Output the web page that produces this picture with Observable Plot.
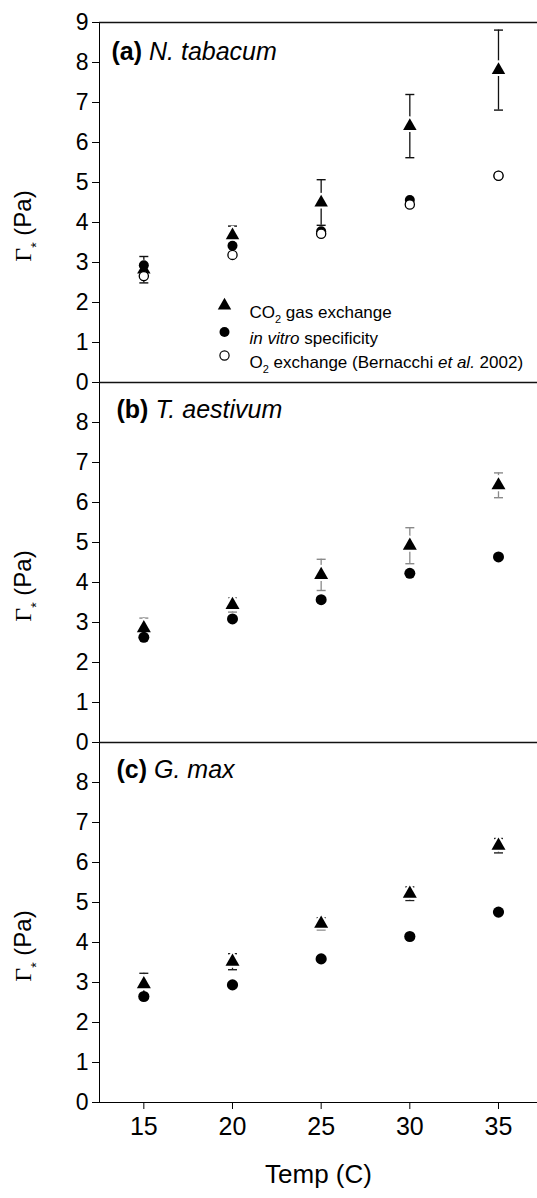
<!DOCTYPE html>
<html>
<head>
<meta charset="utf-8">
<script src="https://cdn.jsdelivr.net/npm/d3@7"></script>
<script src="https://cdn.jsdelivr.net/npm/@observablehq/plot@0.6"></script>
<style>
  html, body { margin: 0; padding: 0; background: #fff; overflow: hidden; }
  #chart { position: relative; width: 537px; height: 1198px; }
  #chart svg { position: absolute; left: 0; }
</style>
</head>
<body>
<div id="chart"></div>
<script>
// ---------- data ----------
const temps = [15, 20, 25, 30, 35];

// (a) N. tabacum
const tabacumCO2 = [2.82, 3.68, 4.50, 6.41, 7.81];
const tabacumCO2Err = [0.33, 0.23, 0.57, 0.79, 1.00];
const tabacumVitro = [2.93, 3.42, 3.78, 4.56, 5.17];
const tabacumO2 = [2.66, 3.19, 3.72, 4.45, 5.17];

// (b) T. aestivum
const aestivumCO2 = [2.86, 3.44, 4.19, 4.92, 6.43];
const aestivumCO2Err = [0.25, 0.18, 0.39, 0.45, 0.31];
const aestivumVitro = [2.63, 3.09, 3.57, 4.23, 4.64];

// (c) G. max
const maxCO2 = [2.96, 3.52, 4.47, 5.22, 6.42];
const maxCO2Err = [0.27, 0.20, 0.15, 0.17, 0.18];
const maxVitro = [2.65, 2.94, 3.59, 4.15, 4.76];

const yTicksTop = [0, 1, 2, 3, 4, 5, 6, 7, 8, 9];
const yTicksLower = [0, 1, 2, 3, 4, 5, 6, 7, 8];
const xTicks = [15, 20, 25, 30, 35];
const yDomain = [0, 9];
const xDomain = [12.5, 37.2];

const panelLetters = ["(a)", "(b)", "(c)"];
const panelSpecies = ["N. tabacum", "T. aestivum", "G. max"];
const legendLabels = ["CO2 gas exchange", "in vitro specificity", "O2 exchange (Bernacchi et al. 2002)"];
const yLabel = "Γ* (Pa)";
const xLabel = "Temp (C)";

// ---------- helpers ----------
const rows = (vals, errs) => temps.map((t, i) => ({t, v: vals[i], e: errs ? errs[i] : 0}));
const cap = {draw(ctx) { ctx.moveTo(-4.5, 0); ctx.lineTo(4.5, 0); }};
const FONT = "Liberation Sans, Arial, Helvetica, sans-serif";
const SERIF = "Liberation Serif, Times New Roman, serif";

function findText(svg, key) {
  return d3.select(svg).selectAll("text").filter(function() { return this.textContent === key; });
}
function rich(sel, parts) {
  sel.each(function() {
    const t = d3.select(this);
    t.text(null);
    for (const p of parts) {
      const s = t.append("tspan").text(p.text);
      for (const [k, v] of Object.entries(p.attrs || {})) s.attr(k, v);
    }
  });
}

function panel(i, cfg) {
  const tri = rows(cfg.co2, cfg.co2Err);
  const title = panelLetters[i] + " " + panelSpecies[i];
  const marks = [
    Plot.ruleY([yDomain[1]], {stroke: "#111", strokeWidth: 1.3}),
    Plot.ruleX(tri, {x: "t", y1: d => d.v - d.e, y2: d => d.v + d.e, stroke: cfg.barColor, strokeWidth: 1.3}),
    Plot.dot(tri, {x: "t", y: d => d.v + d.e, symbol: cap, stroke: cfg.barColor, strokeWidth: 1.4}),
    Plot.dot(tri, {x: "t", y: d => d.v - d.e, symbol: cap, stroke: cfg.barColor, strokeWidth: 1.4}),
    Plot.dot(tri, {x: "t", y: "v", symbol: "triangle", r: cfg.triR, fill: "#000", stroke: "#fff", strokeWidth: 4, paintOrder: "stroke", strokeLinejoin: "round"}),
    Plot.dot(rows(cfg.vitro), {x: "t", y: "v", r: cfg.circR, fill: "#000"})
  ];
  if (cfg.o2) marks.push(Plot.dot(rows(cfg.o2), {x: "t", y: "v", r: 4.6, fill: "#fff", stroke: "#000", strokeWidth: 1.3}));
  marks.push(
    Plot.text([title], {frameAnchor: "top-left", textAnchor: "start", lineAnchor: "top", dx: cfg.titleDx, dy: cfg.titleDy, fontSize: 25, fill: "#000"}),
    Plot.text([yLabel], {frameAnchor: "left", textAnchor: "middle", rotate: -90, fontSize: 24, fill: "#000"})
  );
  if (cfg.legend) {
    const ly = [283, 309.5, 333];
    marks.push(
      Plot.dot([0], {frameAnchor: "top-left", dx: 125, dy: ly[0], symbol: "triangle", r: 5, fill: "#000"}),
      Plot.dot([0], {frameAnchor: "top-left", dx: 125, dy: ly[1], r: 5, fill: "#000"}),
      Plot.dot([0], {frameAnchor: "top-left", dx: 125, dy: ly[2], r: 4.6, fill: "#fff", stroke: "#000", strokeWidth: 1.2}),
      ...legendLabels.map((l, k) => Plot.text([l], {frameAnchor: "top-left", dx: 150, dy: ly[k], textAnchor: "start", fontSize: 17, fill: "#000"}))
    );
  }
  if (cfg.xAxis) {
    marks.push(Plot.text([xLabel], {frameAnchor: "bottom", dy: 80, fontSize: 26, fill: "#000"}));
  }
  const svg = Plot.plot({
    width: 537,
    height: cfg.height,
    marginLeft: 99,
    marginRight: 0,
    marginTop: cfg.marginTop,
    marginBottom: cfg.marginBottom,
    style: {fontFamily: FONT, fontSize: "22px", overflow: "visible", background: "transparent", color: "#000"},
    x: cfg.xAxis
      ? {domain: xDomain, ticks: xTicks, tickSize: 7, tickPadding: 8, line: true, label: null}
      : {domain: xDomain, axis: null},
    y: {domain: yDomain, ticks: cfg.yTicks, tickSize: 7, tickPadding: 4, line: true, label: null},
    marks
  });
  svg.style.top = cfg.top + "px";
  d3.select(svg).selectAll('[aria-label^="y-axis"] text').style("font-size", "23px");
  d3.select(svg).selectAll('[aria-label^="x-axis"] text').style("font-size", "25px");
  rich(findText(svg, title), [
    {text: panelLetters[i], attrs: {"font-weight": "bold"}},
    {text: " "},
    {text: panelSpecies[i], attrs: {"font-style": "italic"}}
  ]);
  // y label: fixed offset left of the axis, centred a little below the panel middle
  const yl = findText(svg, yLabel);
  const innerH = cfg.height - cfg.marginTop - cfg.marginBottom;
  const cy = cfg.marginTop + innerH / 2 + 24;
  yl.each(function() {
    if (this.parentNode && this.parentNode.tagName === "g") d3.select(this.parentNode).attr("transform", null);
  });
  yl.attr("x", null).attr("y", null).attr("text-anchor", "middle").attr("transform", `translate(31,${cy}) rotate(-90)`);
  rich(yl, [
    {text: "Γ", attrs: {"font-family": SERIF, "font-size": 24}},
    {text: "*", attrs: {"font-size": 14, dy: 10}},
    {text: " (Pa)", attrs: {dy: -10}}
  ]);
  if (cfg.legend) {
    rich(findText(svg, legendLabels[0]), [
      {text: "CO"}, {text: "2", attrs: {"font-size": 11, dy: 5}}, {text: " gas exchange", attrs: {dy: -5}}
    ]);
    rich(findText(svg, legendLabels[1]), [
      {text: "in vitro", attrs: {"font-style": "italic"}}, {text: " specificity"}
    ]);
    rich(findText(svg, legendLabels[2]), [
      {text: "O"}, {text: "2", attrs: {"font-size": 11, dy: 5}}, {text: " exchange (Bernacchi ", attrs: {dy: -5}},
      {text: "et al.", attrs: {"font-style": "italic"}}, {text: " 2002)"}
    ]);
  }
  return svg;
}

const chart = document.getElementById("chart");
chart.append(
  panel(0, {co2: tabacumCO2, co2Err: tabacumCO2Err, vitro: tabacumVitro, o2: tabacumO2, yTicks: yTicksTop,
    barColor: "#111", triR: 5, circR: 5, top: 0, height: 382, marginTop: 22, marginBottom: 0,
    titleDx: 12, titleDy: 20, legend: true}),
  panel(1, {co2: aestivumCO2, co2Err: aestivumCO2Err, vitro: aestivumVitro, yTicks: yTicksLower,
    barColor: "#8a8a8a", triR: 5.2, circR: 5.5, top: 382, height: 360, marginTop: 0, marginBottom: 0,
    titleDx: 17, titleDy: 18}),
  panel(2, {co2: maxCO2, co2Err: maxCO2Err, vitro: maxVitro, yTicks: yTicksLower,
    barColor: "#222", triR: 5.2, circR: 5.6, top: 742, height: 456, marginTop: 0, marginBottom: 96,
    titleDx: 17, titleDy: 18, xAxis: true})
);
</script>
</body>
</html>
